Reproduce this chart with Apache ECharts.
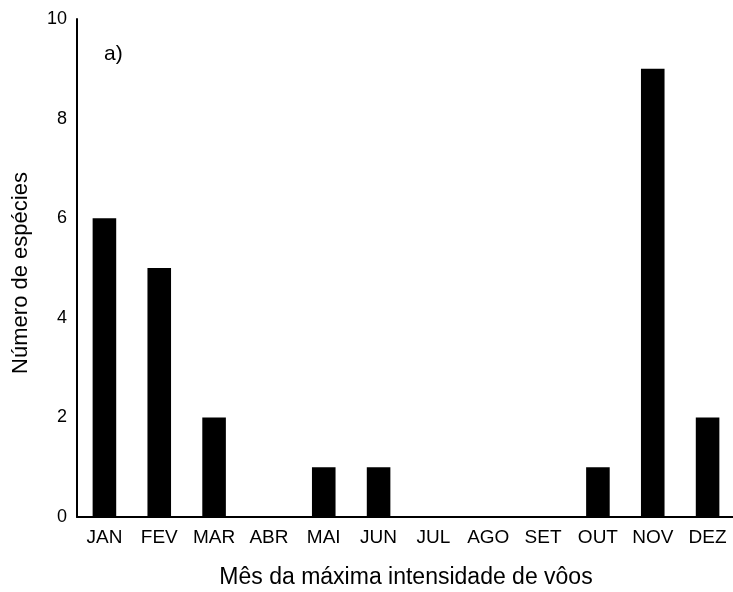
<!DOCTYPE html>
<html>
<head>
<meta charset="utf-8">
<script src="https://cdn.jsdelivr.net/npm/echarts@6/dist/echarts.min.js"></script>
<style>
  html, body { margin: 0; padding: 0; background: #fff; }
  #chart { width: 733px; height: 592px; }
</style>
</head>
<body>
<div id="chart"></div>
<script>
// Month of maximum flight intensity vs. number of species
const months = ['JAN', 'FEV', 'MAR', 'ABR', 'MAI', 'JUN', 'JUL', 'AGO', 'SET', 'OUT', 'NOV', 'DEZ'];
const speciesCount = [6, 5, 2, 0, 1, 1, 0, 0, 0, 1, 9, 2];
const yTicks = [0, 2, 4, 6, 8, 10];

const font = 'Liberation Sans, Arial, sans-serif';
const chart = echarts.init(document.getElementById('chart'), null, { renderer: 'canvas' });

chart.setOption({
  animation: false,
  backgroundColor: '#ffffff',
  grid: {
    left: 77, top: 19, width: 658, bottom: 75,
    containLabel: false,
    outerBoundsMode: 'none'
  },
  graphic: [{
    type: 'text', left: 104, top: 44,
    style: { text: 'a)', font: '21px ' + font, fill: '#000' }
  }],
  xAxis: {
    type: 'category',
    data: months,
    boundaryGap: true,
    axisLine: { lineStyle: { color: '#000', width: 2 } },
    axisTick: { show: false },
    axisLabel: { interval: 0, hideOverlap: false, color: '#000', fontSize: 19, fontFamily: font, margin: 11 },
    name: 'Mês da máxima intensidade de vôos',
    nameLocation: 'middle',
    nameGap: 49,
    nameTextStyle: { color: '#000', fontSize: 23, fontFamily: font }
  },
  yAxis: {
    type: 'value',
    min: yTicks[0],
    max: yTicks[yTicks.length - 1],
    interval: 2,
    splitLine: { show: false },
    axisLine: { show: true, lineStyle: { color: '#000', width: 2 } },
    axisTick: { show: false },
    axisLabel: { color: '#000', fontSize: 18, fontFamily: font, margin: 10 },
    name: 'Número de espécies',
    nameLocation: 'middle',
    nameGap: 45,
    nameTextStyle: { color: '#000', fontSize: 22, fontFamily: font, padding: [0, 10, 0, 0] }
  },
  series: [{
    type: 'bar',
    data: speciesCount,
    barWidth: '43%',
    itemStyle: { color: '#000' }
  }]
});
</script>
</body>
</html>
